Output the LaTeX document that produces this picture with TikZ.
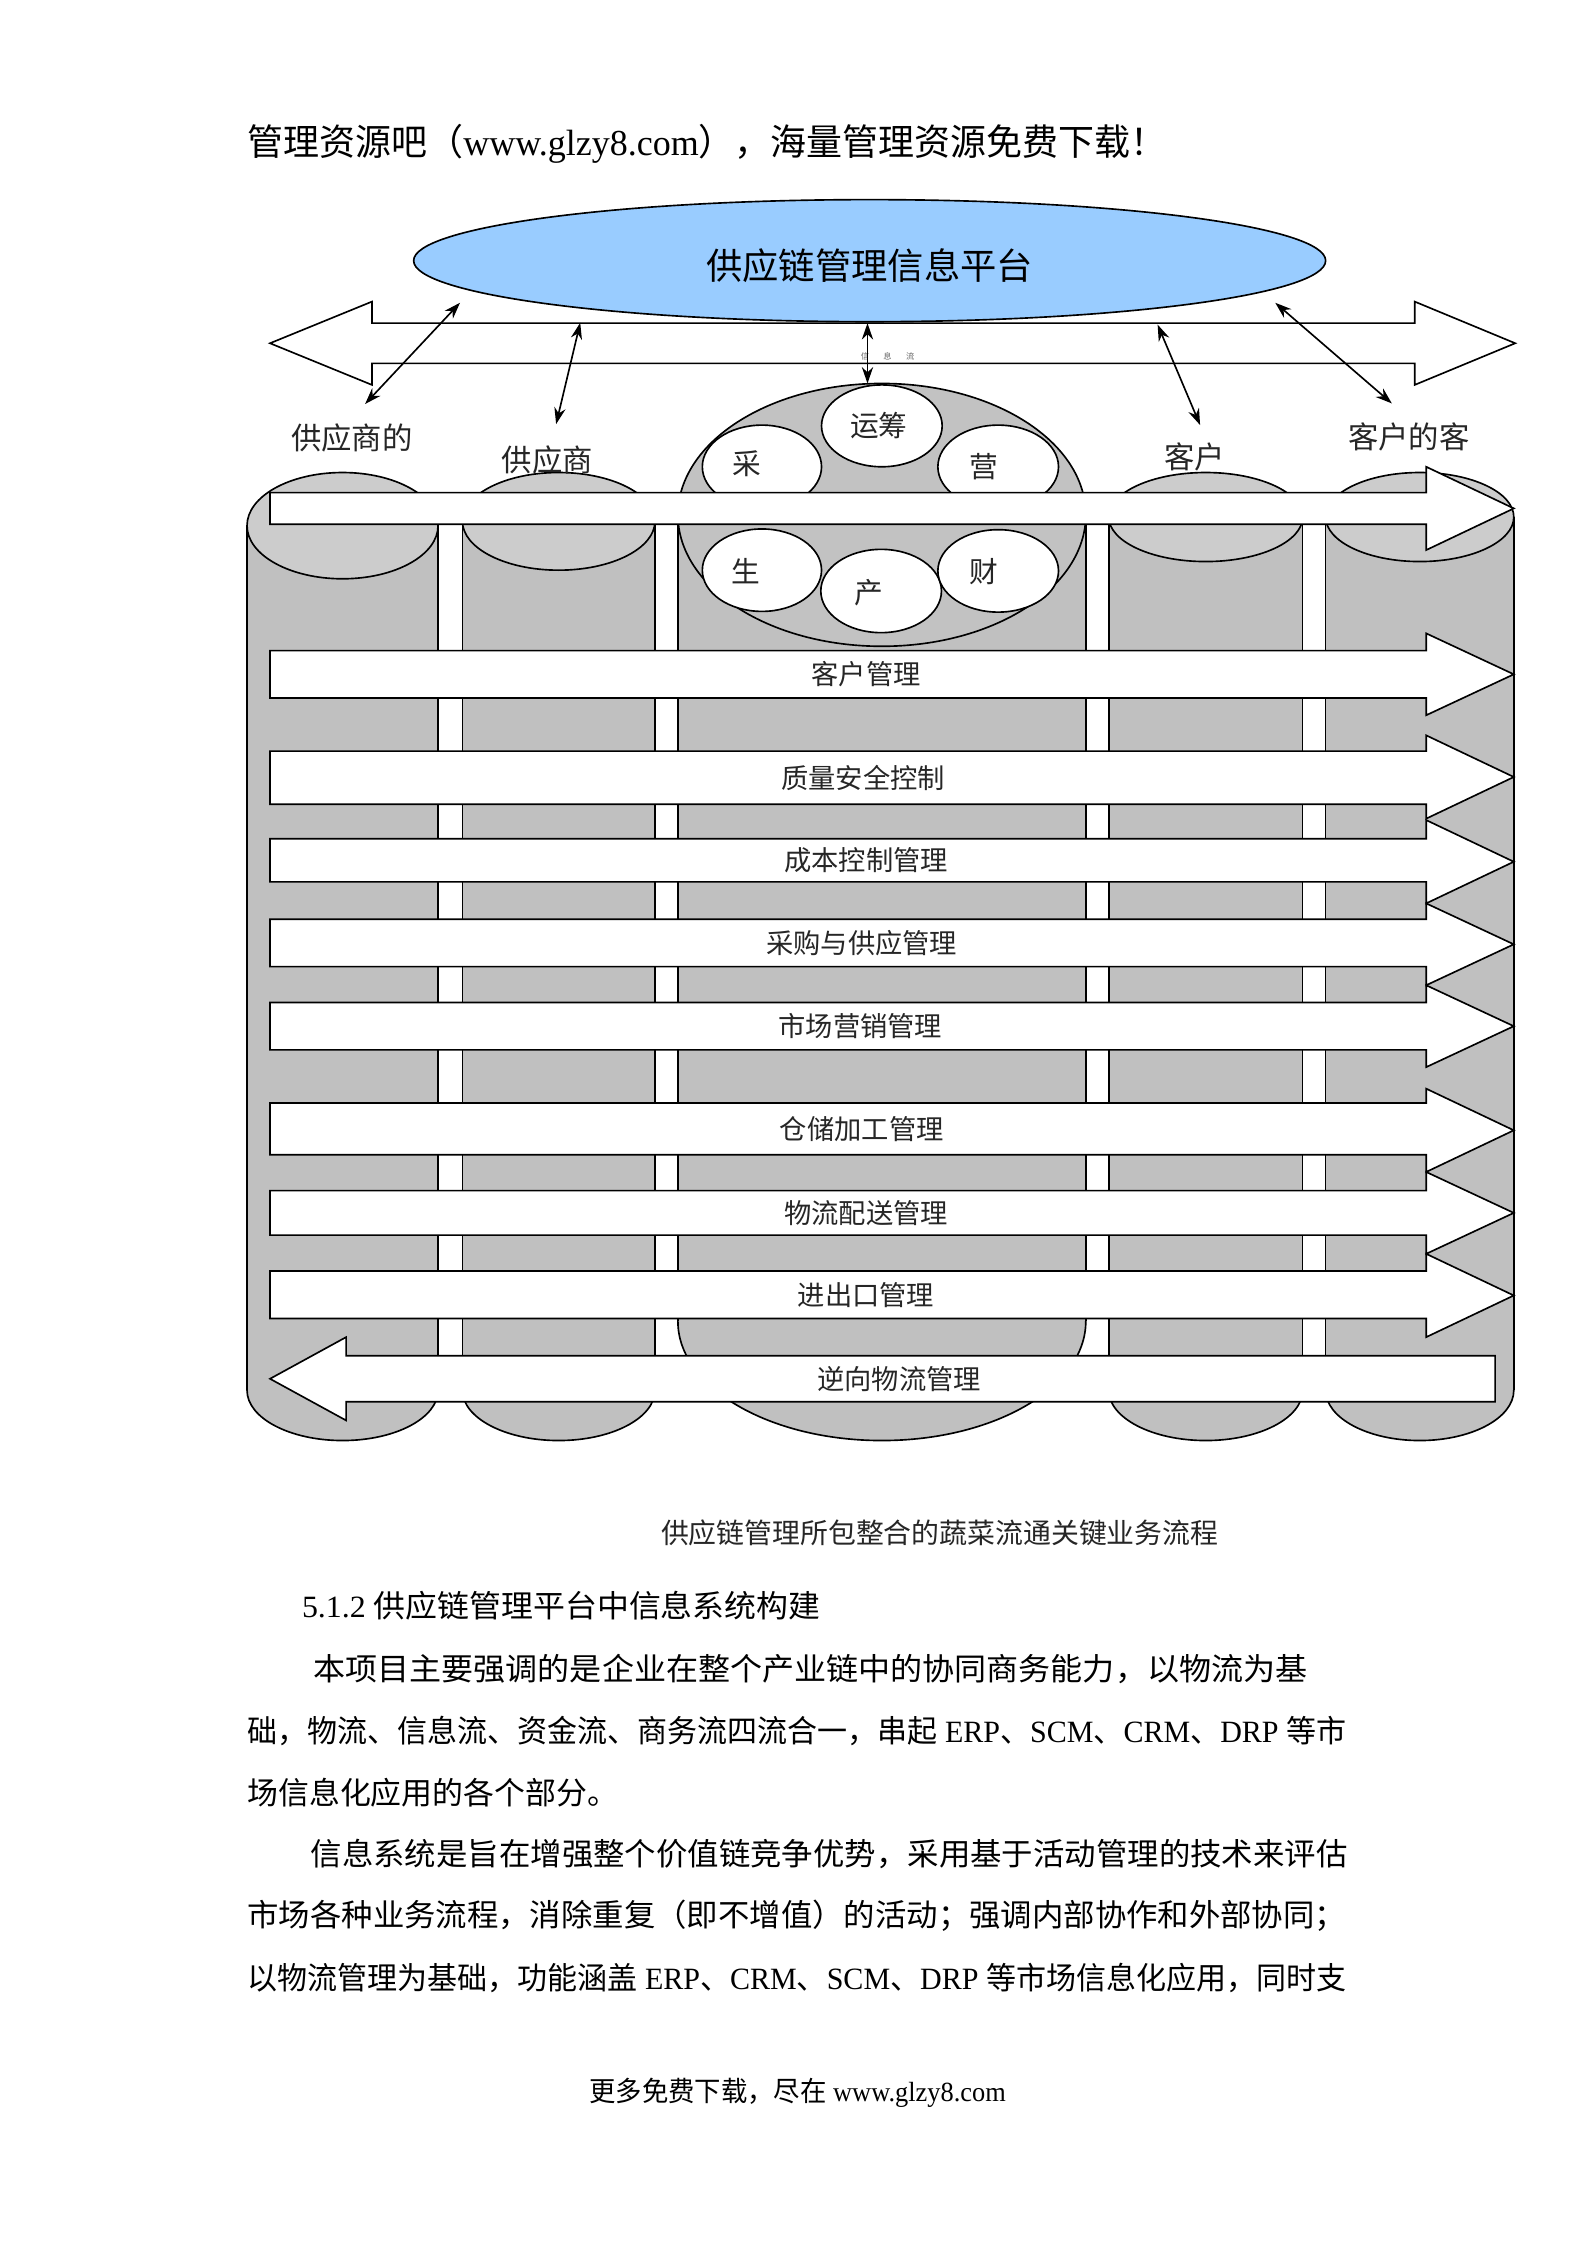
\documentclass[tikz,border=0pt]{standalone}
\usepackage{fontspec}
\usepackage{graphicx}
\setmainfont{Liberation Serif}
\newfontfamily\cjk{Noto Sans CJK SC}
\usetikzlibrary{arrows.meta}
\definecolor{colbody}{RGB}{192,192,192}
\definecolor{coltop}{RGB}{204,204,204}
\definecolor{platblue}{RGB}{153,204,255}
\newlength\uu \setlength\uu{0.7pt}
\newcommand\fitto[2]{\resizebox{#1\uu}{\height}{#2}}
\newcommand\bodyfont{\fontsize{15.1pt}{18pt}\selectfont}
\tikzset{
  outl/.style={draw=black, line width=0.8pt},
  bigarrow/.style={fill=white, draw=black, line width=0.8pt, line join=miter},
  dbl/.style={{Stealth[length=8pt,width=5.5pt]}-{Stealth[length=8pt,width=5.5pt]}, line width=0.8pt},
  lbl/.style={font=\cjk\fontsize{13.3pt}{15pt}\selectfont, text=black!85, inner sep=0pt},
  collbl/.style={font=\cjk\fontsize{14.8pt}{16pt}\selectfont, text=black!85, inner sep=0pt},
  cirlbl/.style={font=\cjk\fontsize{14pt}{16pt}\selectfont, text=black!85, inner sep=0pt},
  txt/.style={anchor=west, inner sep=0pt, font=\bodyfont}
}
% cx, rx, topcy, botcy, botry
\newcommand\drawcol[5]{%
  \filldraw[colbody, draw=black, line width=0.8pt] (#1,#4) ellipse [x radius=#2, y radius=#5];
  \fill[colbody] ({#1-#2},#3) rectangle ({#1+#2},#4);
  \draw[line width=0.8pt] ({#1-#2},#3) -- ({#1-#2},#4) ({#1+#2},#3) -- ({#1+#2},#4);
}
% shaft top, shaft bottom, head top, head bottom
\newcommand\rarr[4]{%
  \draw[bigarrow] (188,#1) -- (993,#1) -- (993,#3) -- (1054,{(#3+#4)/2}) -- (993,#4) -- (993,#2) -- (188,#2) -- cycle;
}
\begin{document}
\begin{tikzpicture}[x=0.7pt,y=-0.7pt]
\fill[white] (0,0) rectangle (1110,1568);
\useasboundingbox (0,0) rectangle (1110,1568);

% header
\node[txt, font=\fontsize{17.8pt}{20pt}\selectfont] (hdr) at (172,100)
  {\fitto{640}{{\cjk 管理资源吧（}www.glzy8.com{\cjk ），海量管理资源免费下载！}}};

% top double arrow
\draw[bigarrow] (188,239) -- (259,210) -- (259,225) -- (985,225) -- (985,210) -- (1055,239)
  -- (985,268) -- (985,253) -- (259,253) -- (259,268) -- cycle;
\node[font=\cjk\fontsize{4pt}{5pt}\selectfont, text=black!60, inner sep=0pt] (info) at (618,248) {信\hspace{7pt}息\hspace{7pt}流};

% platform ellipse
\filldraw[fill=platblue, draw=black, line width=0.8pt] (605.5,181.5) ellipse [x radius=317.5, y radius=42.5];
\node[font=\cjk\fontsize{17.7pt}{20pt}\selectfont, inner sep=0pt] (plat) at (605.5,185) {供应链管理信息平台};

% columns
\drawcol{238.5}{66.5}{366}{968}{35}
\drawcol{389}{67}{363}{968}{35}
\drawcol{614}{142}{358.5}{920}{83}
\drawcol{839.5}{67.5}{360}{968}{35}
\drawcol{988.5}{65.5}{360}{968}{35}

% column tops
\filldraw[coltop, draw=black, line width=0.8pt] (238.5,366) ellipse [x radius=66.5, y radius=37];
\filldraw[coltop, draw=black, line width=0.8pt] (389,363) ellipse [x radius=67, y radius=34];
\filldraw[coltop, draw=black, line width=0.8pt] (839.5,360) ellipse [x radius=67.5, y radius=31];
\filldraw[coltop, draw=black, line width=0.8pt] (988.5,360) ellipse [x radius=65.5, y radius=31];
\filldraw[colbody!80!coltop, draw=black, line width=0.8pt] (614,358.5) ellipse [x radius=142, y radius=91.5];

% circles in the centre
\filldraw[fill=white, draw=black, line width=0.8pt] (614,296.5) ellipse [x radius=42, y radius=28.5];
\filldraw[fill=white, draw=black, line width=0.8pt] (530.5,325) ellipse [x radius=41.5, y radius=29];
\filldraw[fill=white, draw=black, line width=0.8pt] (695,325) ellipse [x radius=42, y radius=29];
\filldraw[fill=white, draw=black, line width=0.8pt] (530.5,397) ellipse [x radius=41.5, y radius=28.7];
\filldraw[fill=white, draw=black, line width=0.8pt] (613.5,411.5) ellipse [x radius=42, y radius=29];
\filldraw[fill=white, draw=black, line width=0.8pt] (695,397.5) ellipse [x radius=42, y radius=28.7];
\node[cirlbl] (c1) at (612,296) {运筹};
\node[cirlbl] (c2) at (520,323) {采};
\node[cirlbl] (c3) at (685,325) {营};
\node[cirlbl] (c4) at (519,398) {生};
\node[cirlbl] (c5) at (605,413) {产};
\node[cirlbl] (c6) at (685,398) {财};

% flow arrows
\rarr{343}{365}{325}{383}
\rarr{453}{486}{441}{498}
\rarr{523}{560}{512}{570}
\rarr{584}{614}{571}{629}
\rarr{640}{673}{629}{686}
\rarr{698}{731}{686}{743}
\rarr{768}{804}{758}{816}
\rarr{829}{860}{816}{873}
\rarr{885}{918}{873}{931}
\draw[bigarrow] (1041,944) -- (241,944) -- (241,931) -- (188,960) -- (241,989) -- (241,976) -- (1041,976) -- cycle;

\node[lbl] (f1) at (603,469.5) {客户管理};
\node[lbl] (f2) at (601,541.5) {质量安全控制};
\node[lbl] (f3) at (603,599) {成本控制管理};
\node[lbl] (f4) at (600,656.5) {采购与供应管理};
\node[lbl] (f5) at (599,714.5) {市场营销管理};
\node[lbl] (f6) at (600,786) {仓储加工管理};
\node[lbl] (f7) at (603,844.5) {物流配送管理};
\node[lbl] (f8) at (603,901.5) {进出口管理};
\node[lbl] (f9) at (626,960) {逆向物流管理};

% participant labels
\node[collbl] (s2) at (245,305) {供应商的};
\node[collbl] (s1) at (381,320) {供应商};
\node[collbl] (k1) at (832,318) {客户};
\node[collbl] (k2) at (981,304) {客户的客};

% information links
\coordinate (p1) at (320.3,210.8); \coordinate (q1) at (254.2,281.3);
\coordinate (p2) at (404,224.7);   \coordinate (q2) at (387.2,295.3);
\coordinate (p3) at (604,225);     \coordinate (q3) at (604,267);
\coordinate (p4) at (806,226);     \coordinate (q4) at (835.6,296);
\coordinate (p5) at (887.9,210.8); \coordinate (q5) at (969.1,280.9);
\draw[dbl] (p1) -- (q1);
\draw[dbl] (p2) -- (q2);
\draw[dbl] (p3) -- (q3);
\draw[dbl] (p4) -- (q4);
\draw[dbl] (p5) -- (q5);

% caption and body text
\node[txt, font=\cjk\fontsize{13.6pt}{16pt}\selectfont, text=black!85] (cap) at (460,1067)
  {\fitto{388}{供应链管理所包整合的蔬菜流通关键业务流程}};
\node[txt] (sec) at (210,1118) {\fitto{361}{5.1.2 {\cjk 供应链管理平台中信息系统构建}}};
\node[txt] (l1) at (218,1162) {\fitto{692}{\cjk 本项目主要强调的是企业在整个产业链中的协同商务能力，以物流为基}};
\node[txt] (l2) at (172,1205) {\fitto{765}{{\cjk 础，物流、信息流、资金流、商务流四流合一，串起} ERP{\cjk 、}SCM{\cjk 、}CRM{\cjk 、}DRP {\cjk 等市}}};
\node[txt] (l3) at (172,1248) {\fitto{258}{\cjk 场信息化应用的各个部分。}};
\node[txt] (l4) at (216,1291) {\fitto{722}{\cjk 信息系统是旨在增强整个价值链竞争优势，采用基于活动管理的技术来评估}};
\node[txt] (l5) at (172,1334) {\fitto{765}{\cjk 市场各种业务流程，消除重复（即不增值）的活动；强调内部协作和外部协同；}};
\node[txt] (l6) at (172,1377) {\fitto{765}{{\cjk 以物流管理为基础，功能涵盖} ERP{\cjk 、}CRM{\cjk 、}SCM{\cjk 、}DRP {\cjk 等市场信息化应用，同时支}}};
\node[txt, font=\fontsize{13.5pt}{16pt}\selectfont] (ftr) at (410,1457)
  {\fitto{290}{{\cjk 更多免费下载，尽在} www.glzy8.com}};
\end{tikzpicture}
\end{document}
